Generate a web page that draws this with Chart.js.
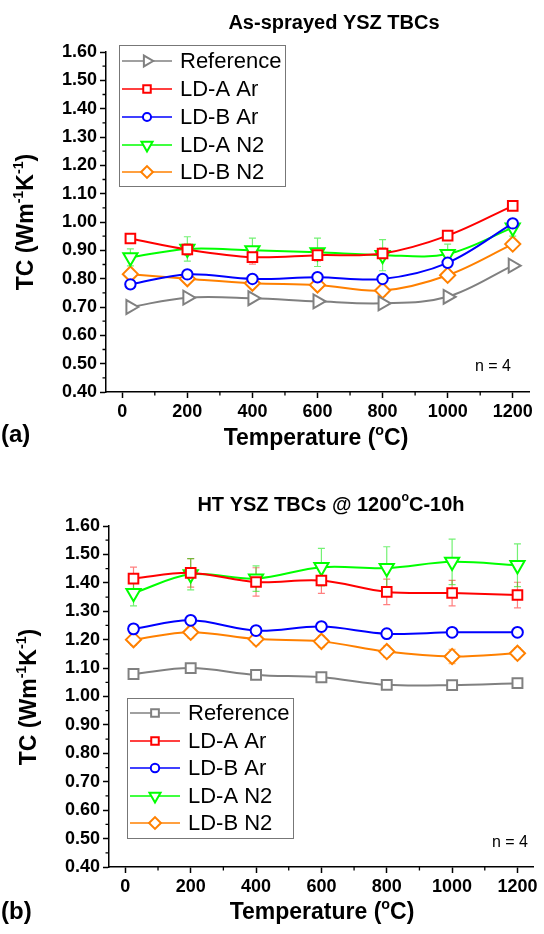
<!DOCTYPE html>
<html>
<head>
<meta charset="utf-8">
<script src="https://cdn.jsdelivr.net/npm/chart.js@4.4.1/dist/chart.umd.min.js"></script>
<style>
    html, body { margin: 0; padding: 0; background: #fff; }
    #wrap { position: relative; width: 544px; height: 934px; }
    .panel { position: absolute; left: 0; width: 544px; }
</style>
</head>
<body>
<div id="wrap">
    <div class="panel" style="top:0;height:470px"><canvas id="chartA" width="544" height="470"></canvas></div>
    <div class="panel" style="top:470px;height:464px"><canvas id="chartB" width="544" height="464"></canvas></div>
</div>
<script>
// temperatures (°C)
const temps = [25, 200, 400, 600, 800, 1000, 1200];
const seriesNames = ["Reference", "LD-A Ar", "LD-B Ar", "LD-A N2", "LD-B N2"];

// axis ticks
const xTicks = [0, 200, 400, 600, 800, 1000, 1200];
const xMinor = [100, 300, 500, 700, 900, 1100];
const yTicks = [0.40, 0.50, 0.60, 0.70, 0.80, 0.90, 1.00, 1.10, 1.20, 1.30, 1.40, 1.50, 1.60];
const yMinor = [0.45, 0.55, 0.65, 0.75, 0.85, 0.95, 1.05, 1.15, 1.25, 1.35, 1.45, 1.55];

// (a) as-sprayed
const refA   = [0.700, 0.733, 0.731, 0.720, 0.713, 0.736, 0.846];
const ldaArA = [0.942, 0.903, 0.876, 0.883, 0.889, 0.952, 1.057];
const ldbArA = [0.780, 0.815, 0.799, 0.805, 0.799, 0.856, 0.995];
const ldaN2A = [0.875, 0.905, 0.900, 0.893, 0.883, 0.887, 0.980];
const ldbN2A = [0.816, 0.800, 0.784, 0.778, 0.758, 0.812, 0.922];

const refErrA   = [0.005, 0.005, 0.005, 0.005, 0.005, 0.005, 0.005];
const ldaArErrA = [0.010, 0.020, 0.025, 0.020, 0.020, 0.010, 0.010];
const ldbArErrA = [0.010, 0.015, 0.015, 0.010, 0.010, 0.010, 0.010];
const ldaN2ErrA = [0.030, 0.043, 0.043, 0.050, 0.055, 0.035, 0.030];
const ldbN2ErrA = [0.010, 0.010, 0.015, 0.015, 0.020, 0.010, 0.010];

// (b) heat treated 1200°C-10h
const refB   = [1.079, 1.100, 1.076, 1.068, 1.041, 1.040, 1.047];
const ldaArB = [1.415, 1.435, 1.403, 1.408, 1.368, 1.364, 1.357];
const ldbArB = [1.238, 1.268, 1.232, 1.246, 1.221, 1.226, 1.226];
const ldaN2B = [1.364, 1.430, 1.415, 1.455, 1.452, 1.474, 1.462];
const ldbN2B = [1.200, 1.226, 1.202, 1.194, 1.158, 1.141, 1.152];

const refErrB   = [0.010, 0.015, 0.010, 0.010, 0.010, 0.010, 0.010];
const ldaArErrB = [0.040, 0.050, 0.050, 0.045, 0.045, 0.045, 0.045];
const ldbArErrB = [0.010, 0.010, 0.010, 0.010, 0.010, 0.010, 0.010];
const ldaN2ErrB = [0.045, 0.055, 0.045, 0.066, 0.075, 0.080, 0.075];
const ldbN2ErrB = [0.020, 0.020, 0.020, 0.020, 0.020, 0.025, 0.020];

const colors    = ["#808080", "#ff0000", "#0000ff", "#00ff00", "#ff8000"];
const errColors = ["rgba(128,128,128,0.5)", "rgba(255,0,0,0.5)", "rgba(0,0,255,0.5)", "rgba(0,230,0,0.55)", "rgba(255,128,0,0.5)"];

const FONT = 'Arial, "Liberation Sans", sans-serif';
Chart.defaults.font.family = FONT;
Chart.defaults.color = "#000";

function drawRich(ctx, parts, x, y, size, weight, align, rotate) {
    ctx.save();
    ctx.translate(x, y);
    if (rotate) ctx.rotate(-Math.PI / 2);
    const fontFor = sup => `${weight} ${sup ? size * 0.62 : size}px ${FONT}`;
    let total = 0;
    parts.forEach(p => {
        ctx.font = fontFor(p.sup);
        p.w = ctx.measureText(p.t).width;
        total += p.w;
    });
    let cx = align === "center" ? -total / 2 : (align === "right" ? -total : 0);
    ctx.textBaseline = "middle";
    ctx.textAlign = "left";
    ctx.fillStyle = "#000";
    parts.forEach(p => {
        ctx.font = fontFor(p.sup);
        ctx.fillText(p.t, cx, p.sup ? -size * 0.36 : 0);
        cx += p.w;
    });
    ctx.restore();
}

const extras = {
    id: "extras",
    beforeDatasetsDraw(chart, args, opts) {
        const ctx = chart.ctx, xs = chart.scales.x, ys = chart.scales.y;
        ctx.save();
        ctx.lineWidth = 1.2;
        chart.data.datasets.forEach((ds, i) => {
            const errs = opts.errors[i];
            ctx.strokeStyle = errColors[i];
            ds.data.forEach((p, j) => {
                const x = xs.getPixelForValue(p.x);
                const y1 = ys.getPixelForValue(p.y + errs[j]);
                const y2 = ys.getPixelForValue(p.y - errs[j]);
                ctx.beginPath();
                ctx.moveTo(x, y1); ctx.lineTo(x, y2);
                ctx.moveTo(x - 3.5, y1); ctx.lineTo(x + 3.5, y1);
                ctx.moveTo(x - 3.5, y2); ctx.lineTo(x + 3.5, y2);
                ctx.stroke();
            });
        });
        ctx.restore();
    },
    afterDraw(chart, args, opts) {
        const ctx = chart.ctx, xs = chart.scales.x, ys = chart.scales.y;
        const area = chart.chartArea;
        ctx.save();
        // minor ticks
        ctx.strokeStyle = "#000";
        ctx.lineWidth = 1.3;
        ctx.beginPath();
        xMinor.forEach(v => {
            const x = xs.getPixelForValue(v);
            ctx.moveTo(x, area.bottom); ctx.lineTo(x, area.bottom + 3.5);
        });
        yMinor.forEach(v => {
            const y = ys.getPixelForValue(v);
            ctx.moveTo(area.left, y); ctx.lineTo(area.left - 3.5, y);
        });
        ctx.stroke();

        // legend box
        const lg = opts.legend;
        ctx.strokeStyle = "#777";
        ctx.lineWidth = 1;
        ctx.strokeRect(lg.x0 + 0.5, lg.y0 + 0.5, lg.x1 - lg.x0, lg.y1 - lg.y0);
        chart.data.datasets.forEach((ds, i) => {
            const y = lg.rows[i];
            ctx.strokeStyle = ds.borderColor;
            ctx.lineWidth = 1.6;
            ctx.beginPath();
            ctx.moveTo(lg.lineX, y); ctx.lineTo(lg.lineX + 50, y);
            ctx.stroke();
            ctx.fillStyle = "#fff";
            ctx.strokeStyle = ds.borderColor;
            ctx.lineWidth = 2;
            Chart.helpers.drawPoint(ctx, {
                pointStyle: ds.pointStyle,
                rotation: ds.pointRotation || 0,
                radius: ds.pointRadius * 0.78,
                borderWidth: 2
            }, lg.lineX + 25, y);
            ctx.fillStyle = "#000";
            ctx.font = `22px ${FONT}`;
            ctx.textBaseline = "middle";
            ctx.textAlign = "left";
            ctx.fillText(ds.label, lg.textX, y + 1);
        });

        // texts
        opts.texts.forEach(t => drawRich(ctx, t.parts, t.x, t.y, t.size, t.weight, t.align, t.rotate));
        ctx.restore();
    }
};

function buildDatasets(values, styles) {
    return values.map((vals, i) => ({
        label: seriesNames[i],
        data: temps.map((t, j) => ({ x: t, y: vals[j] })),
        borderColor: colors[i],
        backgroundColor: "#fff",
        borderWidth: 2,
        tension: 0.35,
        fill: false,
        pointStyle: styles[i].style,
        pointRotation: styles[i].rot || 0,
        pointRadius: styles[i].r,
        pointBorderWidth: 2,
        pointBackgroundColor: "#fff",
        pointBorderColor: colors[i]
    }));
}

function makeChart(id, datasets, layout, extrasOpts) {
    const h = document.getElementById(id).height;
    return new Chart(document.getElementById(id), {
        type: "line",
        data: { datasets: datasets },
        options: {
            responsive: false,
            animation: false,
            layout: { padding: { left: 0, top: layout.top, right: 544 - layout.right, bottom: 0 } },
            plugins: {
                legend: { display: false },
                tooltip: { enabled: false },
                extras: extrasOpts
            },
            scales: {
                x: {
                    type: "linear",
                    min: -50,
                    max: 1250,
                    afterBuildTicks: s => { s.ticks = xTicks.map(v => ({ value: v })); },
                    afterFit: s => { s.height = h - layout.bottom; },
                    ticks: { font: { size: 18, weight: "bold" }, color: "#000", padding: 3, maxRotation: 0, autoSkip: false, callback: v => String(v) },
                    grid: { drawOnChartArea: false, drawTicks: true, tickLength: 6, tickColor: "#000", tickWidth: 1.5 },
                    border: { display: true, color: "#000", width: 1.5 }
                },
                y: {
                    type: "linear",
                    min: 0.4,
                    max: 1.6,
                    afterBuildTicks: s => { s.ticks = yTicks.map(v => ({ value: v })); },
                    afterFit: s => { s.width = layout.left; },
                    ticks: { font: { size: 18, weight: "bold" }, color: "#000", padding: 3, callback: v => v.toFixed(2) },
                    grid: { drawOnChartArea: false, drawTicks: true, tickLength: 6, tickColor: "#000", tickWidth: 1.5 },
                    border: { display: true, color: "#000", width: 1.5 }
                }
            }
        },
        plugins: [extras]
    });
}

const tcTitle = [{ t: "TC (Wm" }, { t: "-1", sup: true }, { t: "K" }, { t: "-1", sup: true }, { t: ")" }];
const tempTitle = [{ t: "Temperature (" }, { t: "o", sup: true }, { t: "C)" }];

const stylesA = [
    { style: "triangle", rot: 90, r: 8 },
    { style: "rect", r: 6.8 },
    { style: "circle", r: 5.2 },
    { style: "triangle", rot: 180, r: 8.2 },
    { style: "rectRot", r: 7.6 }
];
const stylesB = [
    { style: "rect", r: 7 },
    { style: "rect", r: 6.8 },
    { style: "circle", r: 5.4 },
    { style: "triangle", rot: 180, r: 8.2 },
    { style: "rectRot", r: 7.6 }
];

makeChart("chartA",
    buildDatasets([refA, ldaArA, ldbArA, ldaN2A, ldbN2A], stylesA),
    { left: 106, right: 529, top: 52, bottom: 392 },
    {
        errors: [refErrA, ldaArErrA, ldbArErrA, ldaN2ErrA, ldbN2ErrA],
        legend: { x0: 119, y0: 45, x1: 285, y1: 186, rows: [61, 89, 117, 145, 172], lineX: 122, textX: 180 },
        texts: [
            { parts: [{ t: "As-sprayed YSZ TBCs" }], x: 334, y: 23, size: 20, weight: "bold", align: "center" },
            { parts: tempTitle, x: 316, y: 439, size: 23, weight: "bold", align: "center" },
            { parts: tcTitle, x: 27, y: 222, size: 23, weight: "bold", align: "center", rotate: true },
            { parts: [{ t: "n = 4" }], x: 511, y: 367, size: 16, weight: "normal", align: "right" },
            { parts: [{ t: "(a)" }], x: 1, y: 435, size: 24, weight: "bold", align: "left" }
        ]
    });

makeChart("chartB",
    buildDatasets([refB, ldaArB, ldbArB, ldaN2B, ldbN2B], stylesB),
    { left: 109, right: 535, top: 56, bottom: 397 },
    {
        errors: [refErrB, ldaArErrB, ldbArErrB, ldaN2ErrB, ldbN2ErrB],
        legend: { x0: 127, y0: 228, x1: 293, y1: 368, rows: [243, 271, 298, 326, 353], lineX: 130, textX: 188 },
        texts: [
            { parts: [{ t: "HT YSZ TBCs @ 1200" }, { t: "o", sup: true }, { t: "C-10h" }], x: 331, y: 35, size: 20, weight: "bold", align: "center" },
            { parts: tempTitle, x: 322, y: 443, size: 23, weight: "bold", align: "center" },
            { parts: tcTitle, x: 30, y: 227, size: 23, weight: "bold", align: "center", rotate: true },
            { parts: [{ t: "n = 4" }], x: 528, y: 373, size: 16, weight: "normal", align: "right" },
            { parts: [{ t: "(b)" }], x: 1, y: 442, size: 24, weight: "bold", align: "left" }
        ]
    });
</script>
</body>
</html>
